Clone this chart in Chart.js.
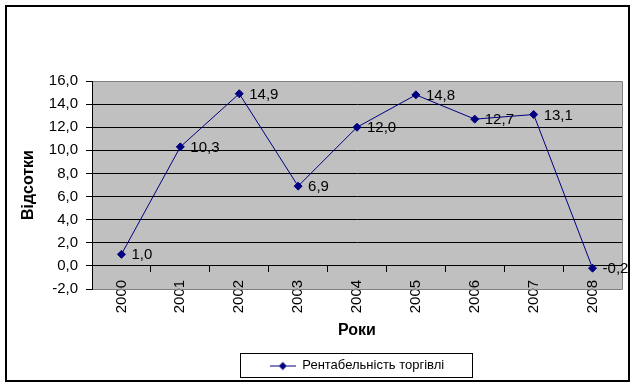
<!DOCTYPE html>
<html>
<head>
<meta charset="utf-8">
<script src="https://cdn.jsdelivr.net/npm/chart.js@4.4.0/dist/chart.umd.min.js"></script>
<style>html,body{margin:0;padding:0;background:#fff}canvas{display:block}</style>
</head>
<body>
<canvas id="c" width="636" height="386"></canvas>
<script>
// дані
const years=['2000','2001','2002','2003','2004','2005','2006','2007','2008'];
const rentab=[1.0,10.3,14.9,6.9,12.0,14.8,12.7,13.1,-0.2];
const yTicks=[-2,0,2,4,6,8,10,12,14,16];
const seriesName='Рентабельність торгівлі';

const FONT='"Liberation Sans", Arial, sans-serif';
const NAVY='#000080';
const fmt=v=>Number(v).toFixed(1).replace('.',',');
const al=p=>Math.round(p-0.5)+0.5;

// значок легенди: лінія з ромбом
const icon=document.createElement('canvas');
icon.width=26; icon.height=10;
(function(){
  const g=icon.getContext('2d');
  g.strokeStyle=NAVY; g.lineWidth=1;
  g.beginPath(); g.moveTo(0,5.5); g.lineTo(26,5.5); g.stroke();
  g.fillStyle=NAVY;
  g.beginPath(); g.moveTo(13,1.5); g.lineTo(17,5.5); g.lineTo(13,9.5); g.lineTo(9,5.5); g.closePath(); g.fill();
})();

const plotBg={id:'plotBg',
  beforeDraw(c){
    const a=c.chartArea,x=c.ctx;
    x.save(); x.fillStyle='#c0c0c0';
    x.fillRect(a.left,a.top,a.right-a.left,a.bottom-a.top);
    x.restore();
  },
  beforeDatasetsDraw(c){
    const a=c.chartArea,x=c.ctx,ys=c.scales.y;
    const t=al(ys.getPixelForValue(yTicks[yTicks.length-1])), b=al(ys.getPixelForValue(yTicks[0])), r=al(a.right);
    x.save(); x.strokeStyle='#808080'; x.lineWidth=1;
    x.beginPath(); x.moveTo(a.left+1,t); x.lineTo(r,t); x.lineTo(r,b); x.lineTo(a.left+1,b); x.stroke();
    x.restore();
  }
};

const valueLabels={id:'valueLabels',
  afterDatasetsDraw(c){
    const x=c.ctx, meta=c.getDatasetMeta(0);
    x.save(); x.fillStyle='#000'; x.font='15px '+FONT;
    x.textAlign='left'; x.textBaseline='middle';
    meta.data.forEach((p,i)=>x.fillText(fmt(rentab[i]),p.x+10,p.y+1));
    x.restore();
  }
};

const frames={id:'frames',
  afterDraw(c){
    const x=c.ctx;
    x.save(); x.strokeStyle='#000';
    const hb=c.legend&&c.legend.legendHitBoxes&&c.legend.legendHitBoxes[0];
    if(hb){
      x.lineWidth=1;
      const cy=hb.top+hb.height/2;
      x.strokeRect(al(hb.left-29),al(cy-12),Math.round(hb.width+58),24);
    }
    x.lineWidth=2;
    x.strokeRect(6,6,623,375);
    x.restore();
  }
};

new Chart(document.getElementById('c'),{
  type:'line',
  data:{labels:years,datasets:[{
    label:seriesName,data:rentab,
    borderColor:NAVY,backgroundColor:NAVY,borderWidth:1,tension:0,
    pointStyle:'rectRot',pointRadius:4,pointBackgroundColor:NAVY,pointBorderColor:NAVY,pointBorderWidth:1
  }]},
  options:{
    responsive:false,animation:false,events:[],
    layout:{padding:{left:10,right:14,top:81,bottom:4}},
    plugins:{
      tooltip:{enabled:false},
      legend:{position:'bottom',fullSize:false,
        labels:{usePointStyle:true,pointStyle:icon,pointStyleWidth:26,boxHeight:13,padding:70,color:'#000',
          font:{family:FONT,size:13}}}
    },
    scales:{
      x:{type:'category',position:{y:0},offset:true,
        grid:{display:true,drawOnChartArea:false,drawTicks:true,tickLength:6,color:'#000',offset:true},
        border:{display:true,color:'#000'},
        ticks:{color:'#000',font:{family:FONT,size:15},minRotation:90,maxRotation:90,padding:8,autoSkip:false},
        title:{display:true,text:'Роки',color:'#000',font:{family:FONT,size:16,weight:'bold'},padding:{top:0,bottom:0}}
      },
      y:{min:yTicks[0],max:yTicks[yTicks.length-1],
        afterBuildTicks(ax){ax.ticks=yTicks.map(v=>({value:v}));},
        afterFit(ax){ax.width=82;},
        grid:{color:'#000',tickLength:6},
        border:{color:'#000'},
        ticks:{color:'#000',font:{family:FONT,size:15},padding:8,callback:v=>fmt(v)},
        title:{display:true,text:'Відсотки',color:'#000',font:{family:FONT,size:16,weight:'bold'},padding:{top:9,bottom:0}}
      }
    }
  },
  plugins:[plotBg,valueLabels,frames]
});
</script>
</body>
</html>
